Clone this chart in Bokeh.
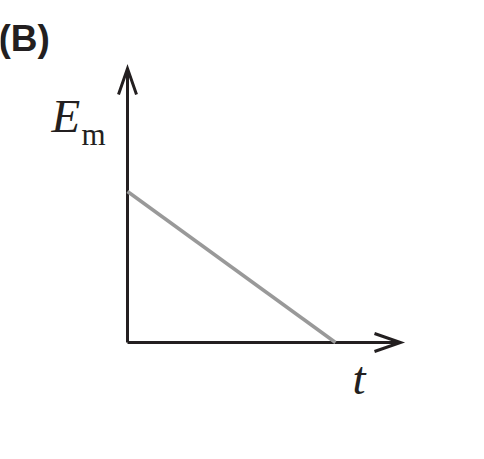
from bokeh.plotting import figure
from bokeh.models import Label, Range1d
from bokeh.embed import file_html
from bokeh.resources import INLINE

# data: linear decrease of E_m with t
t_vals = [0.0, 1.0]
em_vals = [1.0, 0.0]
y_label = "E"
y_sub = "m"
x_label = "t"
panel = "(B)"

W, H = 468, 443
# pixel scale
px_x = 208.0   # px per t unit
px_y = 151.0   # px per E unit
ox, oy = 127.0, 342.0  # canvas position of origin (from top-left)

p = figure(width=W, height=H, output_backend="svg", toolbar_location=None,
           x_range=Range1d(-ox / px_x, (W - ox) / px_x),
           y_range=Range1d(-(H - oy) / px_y, oy / px_y),
           min_border=0)
p.axis.visible = False
p.grid.visible = False
p.outline_line_color = None
p.background_fill_color = "white"
p.border_fill_color = "white"

axis_col = "#231f20"
x_end = 273.0 / px_x
y_end = 274.0 / px_y

# axes
p.line([0, x_end], [0, 0], line_color=axis_col, line_width=3)
p.line([0, 0], [0, y_end], line_color=axis_col, line_width=3)
# arrow heads (open)
hl, hw = 26.0, 9.0
p.line([x_end - hl / px_x, x_end, x_end - hl / px_x], [hw / px_y, 0, -hw / px_y],
       line_color=axis_col, line_width=3, line_join="miter")
p.line([-hw / px_x, 0, hw / px_x], [y_end - hl / px_y, y_end, y_end - hl / px_y],
       line_color=axis_col, line_width=3, line_join="miter")

# data line
p.line(t_vals, em_vals, line_color="#999999", line_width=3.5)

def sy(page_y):
    return H - page_y

p.add_layout(Label(x=-2, y=sy(38), x_units="screen", y_units="screen", text=panel,
                   text_font="Liberation Sans", text_font_style="bold",
                   text_font_size="37px", text_color="#231f20", text_baseline="alphabetic"))
p.add_layout(Label(x=51, y=sy(115), x_units="screen", y_units="screen", text=y_label,
                   text_font="Liberation Serif", text_font_style="italic",
                   text_font_size="47px", text_color="#231f20", text_baseline="alphabetic"))
p.add_layout(Label(x=81, y=sy(134), x_units="screen", y_units="screen", text=y_sub,
                   text_font="Liberation Serif", text_font_style="normal",
                   text_font_size="31px", text_color="#231f20", text_baseline="alphabetic"))
p.add_layout(Label(x=352, y=sy(377), x_units="screen", y_units="screen", text=x_label,
                   text_font="Liberation Serif", text_font_style="italic",
                   text_font_size="47px", text_color="#231f20", text_baseline="alphabetic"))

open("out.html", "w").write(file_html(p, INLINE))
